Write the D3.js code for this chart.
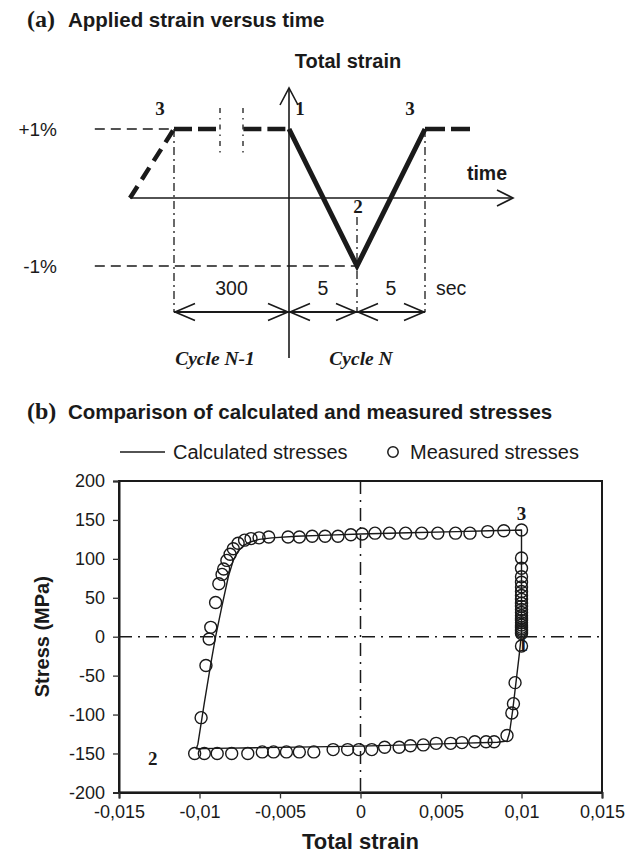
<!DOCTYPE html>
<html>
<head>
<meta charset="utf-8">
<script src="https://cdn.jsdelivr.net/npm/d3@7"></script>
<style>
  html, body { margin: 0; padding: 0; background: #fff; }
  svg { display: block; }
  text { fill: #1a1a1a; }
</style>
</head>
<body>
<div id="chart"></div>
<script>
// ---------------- Panel (a) data (schematic) ----------------
const cycleTime = [0, 5, 10];          // sec, cycle N
const cycleStrain = [1, -1, 1];        // % total strain
const rampTime = [-310, -300];         // end of cycle N-1 ramp
const rampStrain = [0, 1];
const holdBefore = [[-300, -181], [-119, 0]]; // hold at +1% (with break)
const holdAfter = [10, 14];
const breakTimes = [-180, -120];
const levelStart = -318;
const durationBounds = [-300, 0, 5, 10];
const durationLabels = ["300", "5", "5"];
const strainLevelLabels = ["+1%", "-1%"];
const strainLevels = [1, -1];

// ---------------- Panel (b) data ----------------
const calcStrain = [0.0100, 0.00985, 0.00965, 0.00945, 0.00925, 0.0091, 0.0085, 0.006, 0.003, 0.0, -0.003, -0.006, -0.009, -0.0102,
  -0.0101, -0.0097, -0.0093, -0.0090, -0.0086, -0.0082, -0.0079, -0.0076, -0.0072, -0.0068, -0.0063, -0.0055, -0.0040, -0.0020, 0.0,
  0.003, 0.006, 0.008, 0.0100, 0.0100];
const calcStress = [4, -25, -60, -95, -124, -134, -135.5, -137, -139, -140.5, -141.5, -142.5, -143.5, -144,
  -138, -85, -35, 0, 40, 78, 98, 110, 118, 122, 125, 127, 129, 130.5, 132,
  133.5, 135, 136, 137, 4];

const measStrain = [0.0100, 0.0096, 0.0095, 0.0094, 0.0091,
  0.0083, 0.0078, 0.0071, 0.0063, 0.0056, 0.0047, 0.0039, 0.0031, 0.0024, 0.0015, 0.0007, -0.0001, -0.0008, -0.0017,
  -0.0029, -0.0038, -0.0046, -0.0054, -0.0061, -0.0070, -0.0080, -0.0089, -0.0097, -0.0103,
  -0.0099, -0.0096, -0.0094, -0.0093, -0.0090, -0.0088, -0.0086, -0.0085, -0.0083, -0.0081, -0.0079, -0.0076, -0.0072, -0.0068,
  -0.0063, -0.0057, -0.0045, -0.0038, -0.0030, -0.0022, -0.0014, -0.0006, 0.0001, 0.0009, 0.0018, 0.0028, 0.0038, 0.0048,
  0.0059, 0.0068, 0.0079, 0.0089, 0.0100,
  0.0100, 0.0100, 0.0100, 0.0100, 0.0100, 0.0100, 0.0100, 0.0100, 0.0100, 0.0100, 0.0100, 0.0100, 0.0100, 0.0100, 0.0100,
  0.0100, 0.0100, 0.0100, 0.0100, 0.0100, 0.0100, 0.0100];
const measStress = [-12, -59, -86, -98, -127,
  -135, -135, -135, -136, -137, -137, -139, -140, -142, -142, -145, -145, -145, -145,
  -148, -148, -148, -148, -148, -150, -150, -150, -150, -150,
  -104, -37, -3, 12, 44, 68, 80, 87, 98, 106, 113, 120, 124, 126,
  127, 128, 128, 128, 129, 129, 129, 131, 132, 133, 133, 133, 133, 133,
  133, 133, 135, 136, 137,
  101, 88, 77, 70, 64, 58, 53, 48, 43, 39, 35, 31, 27, 24, 21,
  18, 15, 12, 10, 8, 6, 4];

const yTicks = [-200, -150, -100, -50, 0, 50, 100, 150, 200];
const yTickLabels = ["-200", "-150", "-100", "-50", "0", "50", "100", "150", "200"];
const xTicks = [-0.015, -0.01, -0.005, 0, 0.005, 0.01, 0.015];
const xTickLabels = ["-0,015", "-0,01", "-0,005", "0", "0,005", "0,01", "0,015"];
const seriesNames = ["Calculated stresses", "Measured stresses"];

// ---------------- Drawing ----------------
const W = 627, H = 855;
const SANS = "'Liberation Sans', Arial, Helvetica, sans-serif";
const SERIF = "'Liberation Serif', 'Times New Roman', serif";
const svg = d3.select("#chart").append("svg").attr("width", W).attr("height", H);
const ink = "#1a1a1a";

function chevron(g, x, y, dir, len, half, sw) {
  let pts;
  if (dir === "up") pts = [[x - half, y + len], [x, y], [x + half, y + len]];
  else if (dir === "right") pts = [[x - len, y - half], [x, y], [x - len, y + half]];
  else pts = [[x + len, y - half], [x, y], [x + len, y + half]];
  g.append("path").attr("d", d3.line()(pts)).attr("fill", "none")
    .attr("stroke", ink).attr("stroke-width", sw).attr("stroke-linejoin", "miter");
}

// ---- Panel (a) ----
const ga = svg.append("g");
const tScale = d3.scaleLinear().domain([-310, -300, 0, 5, 10, 14]).range([130, 174, 289, 357, 425, 470]);
const eScale = d3.scaleLinear().domain([-1, 0, 1]).range([266, 198, 129]);

const ta = ga.append("text").attr("x", 27).attr("y", 27);
ta.append("tspan").attr("font-family", SERIF).attr("font-weight", "bold").attr("font-size", 24).text("(a)");
ga.append("text").attr("x", 68).attr("y", 27).attr("font-family", SANS).attr("font-weight", "bold")
  .attr("font-size", 20.5).text("Applied strain versus time");

ga.append("text").attr("x", 348).attr("y", 68).attr("text-anchor", "middle").attr("font-family", SANS)
  .attr("font-weight", "bold").attr("font-size", 20).text("Total strain");

const yAxisTop = 88, yAxisBottom = 358;
ga.append("line").attr("x1", tScale(0)).attr("x2", tScale(0)).attr("y1", yAxisTop).attr("y2", yAxisBottom)
  .attr("stroke", ink).attr("stroke-width", 1.6);
chevron(ga, tScale(0), yAxisTop, "up", 17, 9, 1.6);
ga.append("line").attr("x1", tScale(-310)).attr("x2", 513).attr("y1", eScale(0)).attr("y2", eScale(0))
  .attr("stroke", ink).attr("stroke-width", 1.6);
chevron(ga, 513, eScale(0), "right", 16, 8, 1.6);
ga.append("text").attr("x", 487).attr("y", 180).attr("text-anchor", "middle").attr("font-family", SANS)
  .attr("font-weight", "bold").attr("font-size", 19.5).text("time");

ga.append("line").attr("x1", tScale(levelStart)).attr("x2", tScale(-300)).attr("y1", eScale(1)).attr("y2", eScale(1))
  .attr("stroke", ink).attr("stroke-width", 1.5).attr("stroke-dasharray", "10,6");
ga.append("line").attr("x1", tScale(levelStart)).attr("x2", tScale(5)).attr("y1", eScale(-1)).attr("y2", eScale(-1))
  .attr("stroke", ink).attr("stroke-width", 1.5).attr("stroke-dasharray", "10,6");
strainLevels.forEach((v, i) => {
  ga.append("text").attr("x", 57).attr("y", eScale(v) + 7).attr("text-anchor", "end")
    .attr("font-family", SANS).attr("font-size", 19).text(strainLevelLabels[i]);
});

const dd = "8,4,2,4";
[[-300, 1], [10, 1]].forEach(([t, s]) => {
  ga.append("line").attr("x1", tScale(t)).attr("x2", tScale(t)).attr("y1", eScale(s)).attr("y2", 312)
    .attr("stroke", ink).attr("stroke-width", 1.3).attr("stroke-dasharray", dd);
});
ga.append("line").attr("x1", tScale(5)).attr("x2", tScale(5)).attr("y1", 217).attr("y2", 312)
  .attr("stroke", ink).attr("stroke-width", 1.3).attr("stroke-dasharray", dd);

breakTimes.forEach(t => {
  ga.append("line").attr("x1", tScale(t)).attr("x2", tScale(t)).attr("y1", 108).attr("y2", 153)
    .attr("stroke", ink).attr("stroke-width", 1.3).attr("stroke-dasharray", "5,5,1.5,5");
});

const lineA = d3.line().x(d => tScale(d[0])).y(d => eScale(d[1]));
ga.append("path").attr("d", lineA(rampTime.map((t, i) => [t, rampStrain[i]])))
  .attr("fill", "none").attr("stroke", ink).attr("stroke-width", 4.5).attr("stroke-dasharray", "14,8");
holdBefore.forEach(seg => {
  ga.append("path").attr("d", lineA(seg.map(t => [t, 1])))
    .attr("fill", "none").attr("stroke", ink).attr("stroke-width", 4.5).attr("stroke-dasharray", "18,6");
});
ga.append("path").attr("d", lineA(holdAfter.map(t => [t, 1])))
  .attr("fill", "none").attr("stroke", ink).attr("stroke-width", 4.5).attr("stroke-dasharray", "20,6");

ga.append("path").attr("d", lineA(cycleTime.map((t, i) => [t, cycleStrain[i]])))
  .attr("fill", "none").attr("stroke", ink).attr("stroke-width", 5).attr("stroke-linejoin", "miter");

const numFont = (sel) => sel.attr("font-family", SERIF).attr("font-weight", "bold").attr("font-size", 19).attr("text-anchor", "middle");
ga.append("text").attr("x", tScale(-300) - 14).attr("y", 115).call(numFont).text("3");
ga.append("text").attr("x", tScale(0) + 11).attr("y", 115).call(numFont).text("1");
ga.append("text").attr("x", tScale(10) - 15).attr("y", 115).call(numFont).text("3");
ga.append("text").attr("x", tScale(5) + 1).attr("y", 213).call(numFont).text("2");

for (let i = 0; i < durationLabels.length; i++) {
  const x0 = tScale(durationBounds[i]), x1 = tScale(durationBounds[i + 1]);
  ga.append("line").attr("x1", x0).attr("x2", x1).attr("y1", 312).attr("y2", 312)
    .attr("stroke", ink).attr("stroke-width", 2);
  chevron(ga, x0 + 1, 312, "left", 20, 8.5, 1.6);
  chevron(ga, x1 - 1, 312, "right", 20, 8.5, 1.6);
  ga.append("text").attr("x", (x0 + x1) / 2).attr("y", 295).attr("text-anchor", "middle")
    .attr("font-family", SANS).attr("font-size", 19.5).text(durationLabels[i]);
}
ga.append("text").attr("x", tScale(10) + 11).attr("y", 295).attr("font-family", SANS).attr("font-size", 19.5).text("sec");

const cycFont = (sel) => sel.attr("font-family", SERIF).attr("font-weight", "bold").attr("font-style", "italic")
  .attr("font-size", 19.5).attr("text-anchor", "middle");
ga.append("text").attr("x", 215).attr("y", 365).call(cycFont).text("Cycle N-1");
ga.append("text").attr("x", 361).attr("y", 365).call(cycFont).text("Cycle N");

// ---- Panel (b) ----
const gb = svg.append("g");
const tb = gb.append("text").attr("x", 27).attr("y", 419);
tb.append("tspan").attr("font-family", SERIF).attr("font-weight", "bold").attr("font-size", 24).text("(b)");
gb.append("text").attr("x", 68).attr("y", 419).attr("font-family", SANS).attr("font-weight", "bold")
  .attr("font-size", 20.5).text("Comparison of calculated and measured stresses");

const legY = 452;
gb.append("line").attr("x1", 120).attr("x2", 165).attr("y1", legY).attr("y2", legY).attr("stroke", ink).attr("stroke-width", 1.6);
gb.append("text").attr("x", 173).attr("y", legY).attr("dy", "0.35em").attr("font-family", SANS).attr("font-size", 20).text(seriesNames[0]);
gb.append("circle").attr("cx", 393).attr("cy", legY).attr("r", 5.2).attr("fill", "none").attr("stroke", ink).attr("stroke-width", 1.5);
gb.append("text").attr("x", 410).attr("y", legY).attr("dy", "0.35em").attr("font-family", SANS).attr("font-size", 20).text(seriesNames[1]);

const L = 119, R = 602, T = 481, B = 792.4;
const x = d3.scaleLinear().domain([-0.015, 0.015]).range([L, R]);
const y = d3.scaleLinear().domain([-200, 200]).range([B, T]);

gb.append("line").attr("x1", x(0)).attr("x2", x(0)).attr("y1", T).attr("y2", B)
  .attr("stroke", ink).attr("stroke-width", 1.5).attr("stroke-dasharray", "13,6,2,6");
gb.append("line").attr("x1", L).attr("x2", R).attr("y1", y(0)).attr("y2", y(0))
  .attr("stroke", ink).attr("stroke-width", 1.5).attr("stroke-dasharray", "13,6,2,6");

gb.append("path").attr("d", d3.line().x((d, i) => x(calcStrain[i])).y((d, i) => y(calcStress[i]))(calcStrain))
  .attr("fill", "none").attr("stroke", ink).attr("stroke-width", 1.4).attr("stroke-linejoin", "round");

gb.append("g").selectAll("circle").data(measStrain).join("circle")
  .attr("cx", d => x(d)).attr("cy", (d, i) => y(measStress[i])).attr("r", 6)
  .attr("fill", "none").attr("stroke", ink).attr("stroke-width", 1.4);

gb.append("rect").attr("x", L).attr("y", T).attr("width", R - L).attr("height", B - T)
  .attr("fill", "none").attr("stroke", ink).attr("stroke-width", 2);

const yAxis = d3.axisLeft(y).tickValues(yTicks).tickSize(6).tickPadding(8).tickFormat((d, i) => yTickLabels[i]);
const ya = gb.append("g").attr("transform", `translate(${L},0)`).call(yAxis);
const xAxis = d3.axisBottom(x).tickValues(xTicks).tickSize(6).tickPadding(7).tickFormat((d, i) => xTickLabels[i]);
const xa = gb.append("g").attr("transform", `translate(0,${B})`).call(xAxis);
[ya, xa].forEach(a => {
  a.select(".domain").attr("stroke", ink).attr("stroke-width", 2);
  a.selectAll(".tick line").attr("stroke", "#333").attr("stroke-width", 1.3);
  a.selectAll(".tick text").attr("font-family", SANS).attr("font-size", 18).attr("fill", ink);
});

gb.append("text").attr("x", x(0)).attr("y", 849).attr("text-anchor", "middle").attr("font-family", SANS)
  .attr("font-weight", "bold").attr("font-size", 22).text("Total strain");
gb.append("text").attr("transform", `translate(49,${(T + B) / 2}) rotate(-90)`).attr("text-anchor", "middle")
  .attr("font-family", SANS).attr("font-weight", "bold").attr("font-size", 20).text("Stress (MPa)");

gb.append("text").attr("x", x(0.01)).attr("y", y(150)).attr("text-anchor", "middle").call(numFont).text("3");
gb.append("text").attr("x", x(0.0101)).attr("y", y(-18)).attr("text-anchor", "middle").call(numFont).text("1");
gb.append("text").attr("x", x(-0.0129)).attr("y", y(-165)).attr("text-anchor", "middle").call(numFont).text("2");
</script>
</body>
</html>
